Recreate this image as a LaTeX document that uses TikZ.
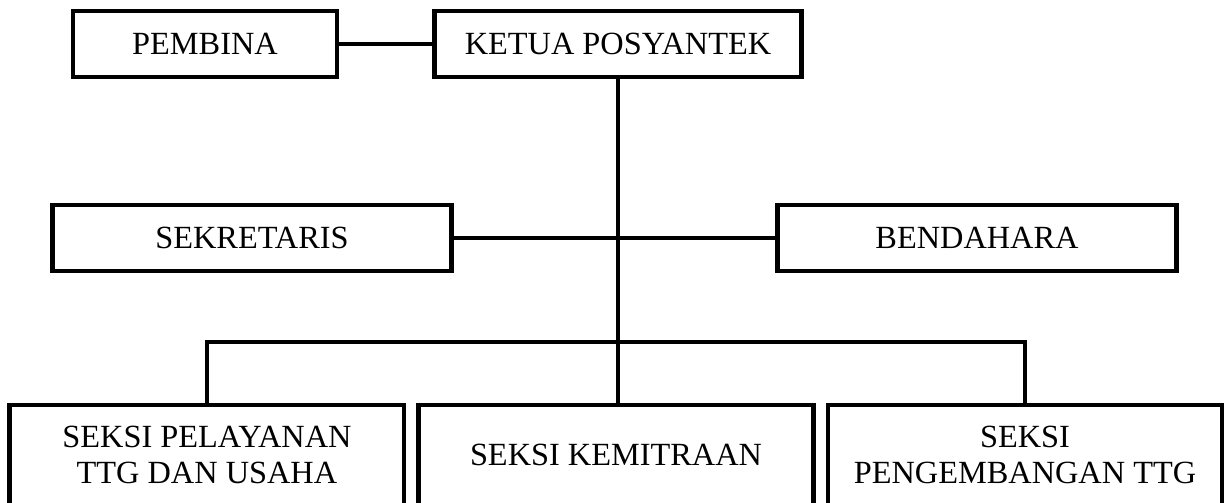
\documentclass[tikz,border=0pt]{standalone}
\usepackage{fontspec}
\setmainfont{Liberation Serif}
\usetikzlibrary{positioning}

\begin{document}
\begin{tikzpicture}[x=0.025cm, y=-0.025cm, line width=3.5pt,
  every node/.style={draw, rectangle, align=center, inner sep=0pt,
    font=\fontsize{23}{26}\selectfont},
  unit/.style={minimum height=1.65cm},
  seksi/.style={minimum height=2.5cm, minimum width=9.85cm}]

  \useasboundingbox (0,0) rectangle (1224,503);

  % Nodes
  \node[unit, minimum width=6.6cm] (pembina) at (205,44) {PEMBINA};
  \node[unit, minimum width=9.15cm] (ketua) at (618,44) {KETUA POSYANTEK};
  \node[unit, minimum width=9.95cm] (sekretaris) at (252,238) {SEKRETARIS};
  \node[unit, minimum width=9.95cm] (bendahara) at (977,238) {BENDAHARA};

  \node[seksi] (kemitraan) at (616,455) {SEKSI KEMITRAAN};
  \node[seksi, left=0.25cm of kemitraan] (pelayanan) {SEKSI PELAYANAN\\TTG DAN USAHA};
  \node[seksi, right=0.25cm of kemitraan] (pengembangan) {SEKSI\\PENGEMBANGAN TTG};

  \coordinate (bar) at (618,342);

  % Edges
  \draw (pembina) -- (ketua);
  \draw (sekretaris) -- (bendahara);
  \draw (ketua.south) -- (ketua.south |- kemitraan.north);
  \draw (pelayanan.north) -- (pelayanan.north |- bar)
    -- (pengembangan.north |- bar) -- (pengembangan.north);

\end{tikzpicture}
\end{document}
